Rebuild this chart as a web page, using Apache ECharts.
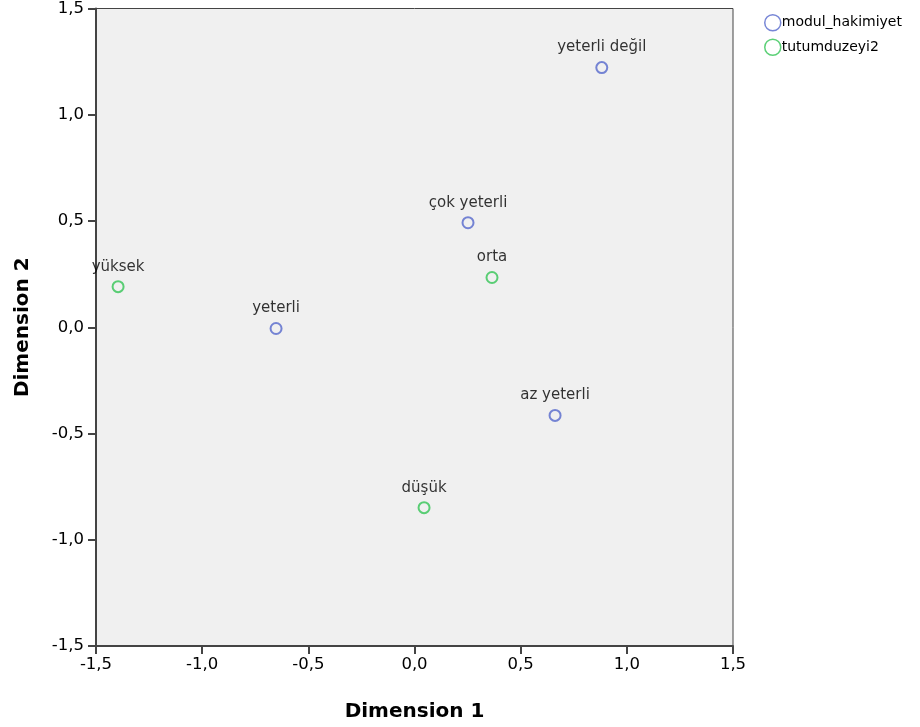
<!DOCTYPE html>
<html><head><meta charset="utf-8">
<script src="https://cdn.jsdelivr.net/npm/echarts@6/dist/echarts.min.js"></script>
<style>html,body{margin:0;padding:0;background:#fff}#c{width:920px;height:727px}</style>
</head><body><div id="c"></div>
<script>
const seriesNames = ['modul_hakimiyet', 'tutumduzeyi2'];
const modulLabels = ['yeterli değil', 'çok yeterli', 'yeterli', 'az yeterli'];
const modulX = [0.882, 0.252, -0.652, 0.662];
const modulY = [1.222, 0.492, -0.006, -0.415];
const tutumLabels = ['yüksek', 'orta', 'düşük'];
const tutumX = [-1.396, 0.365, 0.045];
const tutumY = [0.191, 0.234, -0.849];
const tickLabels = ['-1,5','-1,0','-0,5','0,0','0,5','1,0','1,5'];

const fmt = v => (v < 0 ? '-' : '') + Math.abs(v).toFixed(1).replace('.', ',');
const mk = (xs, ys, ls) => xs.map((x, i) => ({ value: [x, ys[i]], name: ls[i] }));
const colors = ['#5568cc', '#33c455'];
const font = '"DejaVu Sans", sans-serif';

const axisCommon = {
  min: -1.5, max: 1.5, interval: 0.5,
  axisLine: { show: true, onZero: false, lineStyle: { color: '#444', width: 2 } },
  axisTick: { show: true, length: 8, lineStyle: { color: '#444', width: 2 } },
  splitLine: { show: false },
  axisLabel: { color: '#000', fontSize: 16.5, fontFamily: font, formatter: fmt },
  nameLocation: 'middle',
  nameTextStyle: { color: '#000', fontSize: 20, fontWeight: 'bold', fontFamily: font }
};

const chart = echarts.init(document.getElementById('c'), null, { renderer: 'canvas' });
chart.setOption({
  animation: false,
  backgroundColor: '#fff',
  grid: { left: 96, right: 187, top: 7.5, bottom: 81, show: true, backgroundColor: '#f0f0f0', borderColor: '#444', borderWidth: 1 },
  legend: {
    orient: 'vertical', left: 759, top: 9, itemGap: 7, itemWidth: 16, itemHeight: 17,
    textStyle: { color: '#000', fontSize: 14, fontFamily: font, padding: [0, 0, 0, -4] },
    data: seriesNames.map((n, i) => ({ name: n, icon: 'circle', itemStyle: { color: 'transparent', borderColor: colors[i], borderWidth: 1.5 } }))
  },
  xAxis: Object.assign({}, axisCommon, { type: 'value', name: 'Dimension 1', nameGap: 56,
    axisLabel: Object.assign({}, axisCommon.axisLabel, { margin: 10 }) }),
  yAxis: Object.assign({}, axisCommon, { type: 'value', name: 'Dimension 2', nameGap: 63,
    axisLabel: Object.assign({}, axisCommon.axisLabel, { margin: 12 }) }),
  series: [
    { name: seriesNames[0], data: mk(modulX, modulY, modulLabels) },
    { name: seriesNames[1], data: mk(tutumX, tutumY, tutumLabels) }
  ].map((s, i) => Object.assign(s, {
    type: 'scatter', symbol: 'circle', symbolSize: 11,
    itemStyle: { color: 'transparent', borderColor: colors[i], borderWidth: 2 },
    label: { show: true, position: 'top', distance: 6, formatter: p => p.name, color: '#000', fontSize: 15, fontFamily: font }
  }))
});
</script></body></html>
